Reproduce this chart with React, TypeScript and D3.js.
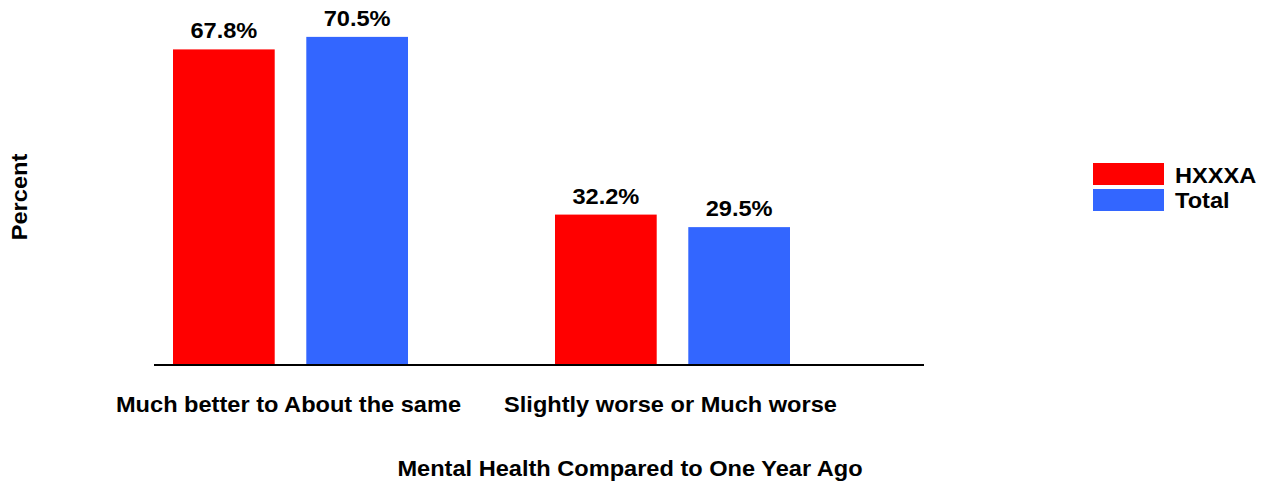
import React from "react";
import * as d3 from "d3";

const categories = ["Much better to About the same", "Slightly worse or Much worse"];
const seriesNames = ["HXXXA", "Total"];
const hxxxaValues = [67.8, 32.2];
const totalValues = [70.5, 29.5];
const seriesColors = ["#FF0000", "#3366FF"];
const xAxisTitle = "Mental Health Compared to One Year Ago";
const yAxisTitle = "Percent";

const W = 1265;
const H = 483;
const FONT = "'Liberation Sans', Arial, Helvetica, sans-serif";
const FS = 22;
const SX = 1.073;

const baseline = 364;
const pxPerUnit = 4.64;

function Label({ x, y, text, rotate = 0, anchor = "middle" }: { x: number; y: number; text: string; rotate?: number; anchor?: string }) {
  return (
    <text
      transform={`translate(${x},${y}) rotate(${rotate}) scale(${SX},1)`}
      textAnchor={anchor as any}
      fontFamily={FONT}
      fontWeight="bold"
      fontSize={FS}
      fill="#000"
    >
      {text}
    </text>
  );
}

export default function App() {
  const y = d3.scaleLinear().domain([0, baseline / pxPerUnit]).range([baseline, 0]);
  const x0 = d3.scaleBand<string>().domain(categories).range([173, 790]).paddingInner(0.3848).paddingOuter(0);
  const x1 = d3.scaleBand<string>().domain(seriesNames).range([0, x0.bandwidth()]).paddingInner(0.237).paddingOuter(0);
  const series = [hxxxaValues, totalValues];

  return (
    <svg width={W} height={H} style={{ position: "absolute", left: 0, top: 0, background: "#fff" }}>
      {categories.map((c, ci) => (
        <g key={c} transform={`translate(${x0(c)},0)`}>
          {seriesNames.map((s, si) => {
            const v = series[si][ci];
            const bx = x1(s)!;
            const bw = x1.bandwidth();
            return (
              <g key={s}>
                <rect x={bx} y={y(v)} width={bw} height={y(0) - y(v)} fill={seriesColors[si]} />
                <Label x={bx + bw / 2} y={y(v) - 11} text={`${v.toFixed(1)}%`} />
              </g>
            );
          })}
          <Label x={x0.bandwidth() / 2 - 2} y={412} text={c} />
        </g>
      ))}
      <line x1={154} x2={924} y1={365} y2={365} stroke="#000" strokeWidth={2} />
      <Label x={630} y={476} text={xAxisTitle} />
      <Label x={27} y={197} rotate={-90} text={yAxisTitle} />
      {seriesNames.map((s, si) => (
        <g key={s}>
          <rect x={1093} y={163 + si * 26} width={71} height={22} fill={seriesColors[si]} />
          <Label x={1175} y={183 + si * 24.5} text={s} anchor="start" />
        </g>
      ))}
    </svg>
  );
}
